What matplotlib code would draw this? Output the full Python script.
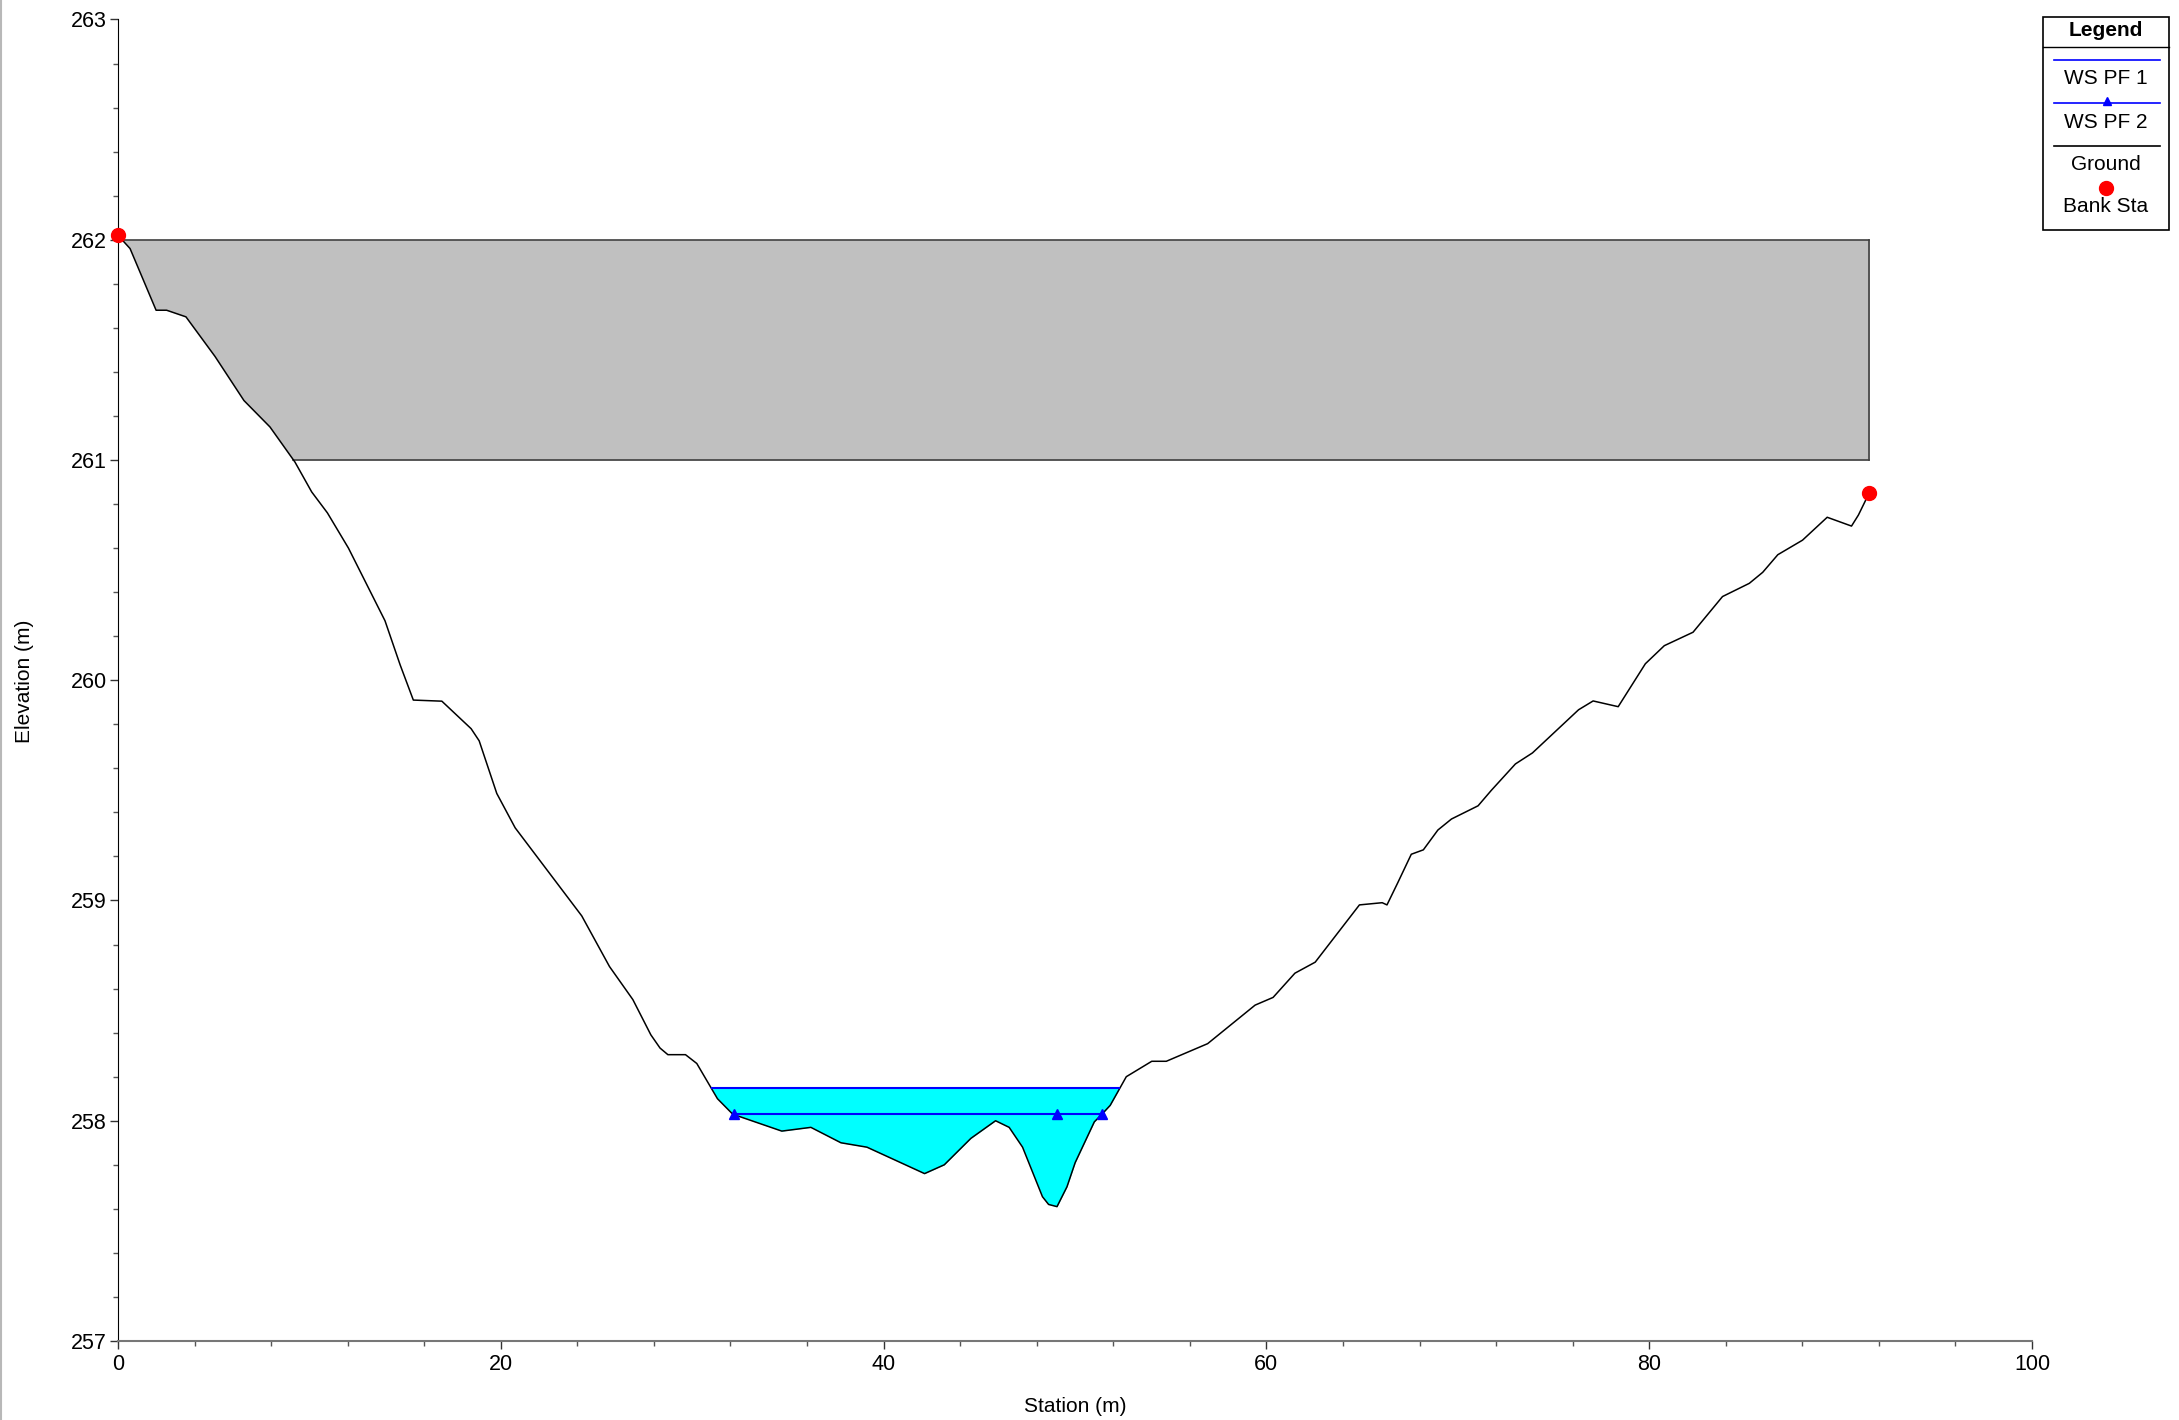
# HEC-RAS style cross section: ground, water surfaces, bank stations.

import numpy as np
import matplotlib.pyplot as plt
from matplotlib.patches import Rectangle
from matplotlib.ticker import MultipleLocator

plt.rcParams['font.family'] = ['Liberation Sans', 'DejaVu Sans']

# Ground profile (station m, elevation m)
ground_sta = [0.0, 0.63, 1.99, 2.54, 3.55, 5.07, 6.58, 7.94, 9.25, 10.12,
              10.94, 12.04, 13.95, 14.74, 15.43, 16.92, 18.45, 18.87, 19.79, 20.75,
              24.23, 25.68, 26.9, 27.84, 28.32, 28.73, 29.65, 30.24, 31.32, 32.16,
              32.51, 34.68, 36.2, 37.77, 39.13, 42.14, 43.17, 44.56, 45.85, 46.56,
              47.26, 48.30, 48.62, 49.06, 49.58, 50.01, 51.01, 51.41, 51.84, 52.68,
              54.01, 54.77, 56.93, 59.41, 60.35, 61.49, 62.55, 64.86, 66.05, 66.3,
              66.86, 67.57, 68.2, 68.96, 69.67, 71.06, 71.75, 73.01, 73.9, 76.31,
              77.07, 78.38, 79.8, 80.79, 82.29, 83.83, 85.23, 85.93, 86.72, 88.01,
              89.3, 90.57, 90.93, 91.38, 91.5]
ground_elev = [262.02, 261.96, 261.68, 261.68, 261.65, 261.47, 261.27, 261.15, 260.99, 260.855,
               260.76, 260.60, 260.27, 260.07, 259.91, 259.905, 259.78, 259.725, 259.486, 259.33,
               258.93, 258.70, 258.55, 258.39, 258.33, 258.30, 258.30, 258.26, 258.10, 258.026,
               258.018, 257.953, 257.97, 257.90, 257.88, 257.76, 257.80, 257.92, 258.00, 257.97,
               257.88, 257.655, 257.62, 257.61, 257.70, 257.81, 257.995, 258.03, 258.07, 258.20,
               258.27, 258.27, 258.35, 258.525, 258.56, 258.67, 258.72, 258.98, 258.99, 258.98,
               259.08, 259.21, 259.23, 259.32, 259.37, 259.43, 259.50, 259.62, 259.67, 259.866,
               259.906, 259.88, 260.075, 260.157, 260.218, 260.38, 260.44, 260.49, 260.57, 260.636,
               260.74, 260.70, 260.75, 260.83, 260.85]

# Bank stations
bank_sta = [0.0, 91.5]
bank_elev = [262.02, 260.85]

# Water surfaces
ws1_elev = 258.15
ws1_sta = [31.03, 52.28]
ws2_elev = 258.03
ws2_sta = [32.16, 51.41]
ws2_marker_sta = [32.16, 49.06, 51.41]

# Gray block (lid / obstruction)
block_sta = [0.0, 91.5]
block_elev = [261.0, 262.0]

W, H = 2179, 1420
fig = plt.figure(figsize=(W / 100, H / 100), dpi=100)
ax = fig.add_axes([118 / W, 79 / H, 1914 / W, 1321.5 / H])

gs = np.array(ground_sta)
ge = np.array(ground_elev)

# gray block, bounded on the left by the ground
xb = np.linspace(block_sta[0], block_sta[1], 2000)
lower = np.clip(np.interp(xb, gs, ge), block_elev[0], block_elev[1])
ax.fill_between(xb, lower, block_elev[1], color='#c0c0c0', lw=0, zorder=1)
ax.plot(block_sta, [block_elev[1]] * 2, color='#404040', lw=1.2, zorder=2)
left_bot = np.interp(block_elev[0], ge[:20][::-1], gs[:20][::-1])
ax.plot([left_bot, block_sta[1]], [block_elev[0]] * 2, color='#404040', lw=1.2, zorder=2)
ax.plot([block_sta[1]] * 2, block_elev, color='#404040', lw=1.2, zorder=2)

# water
xw = np.linspace(ws1_sta[0], ws1_sta[1], 2000)
gw = np.interp(xw, gs, ge)
ax.fill_between(xw, gw, ws1_elev, where=gw < ws1_elev, interpolate=True,
                color='#00ffff', lw=0, zorder=3)

ax.plot(gs, ge, color='black', lw=1.1, zorder=4)
ax.plot(ws1_sta, [ws1_elev] * 2, color='#0000ff', lw=1.5, zorder=5)
ax.plot(ws2_sta, [ws2_elev] * 2, color='#0000ff', lw=1.5, zorder=5)
ax.plot(ws2_marker_sta, [ws2_elev] * 3, ls='none', marker='^', ms=7,
        color='#0000ff', zorder=6)
ax.plot(bank_sta, bank_elev, ls='none', marker='o', ms=10, color='red',
        zorder=7, clip_on=False)

ax.set_xlim(0, 100)
ax.set_ylim(257, 263)
ax.xaxis.set_major_locator(MultipleLocator(20))
ax.xaxis.set_minor_locator(MultipleLocator(4))
ax.yaxis.set_major_locator(MultipleLocator(1))
ax.yaxis.set_minor_locator(MultipleLocator(0.2))
ax.tick_params(which='major', length=6, width=1, labelsize=15.5, pad=2, color='#333333')
ax.tick_params(which='minor', length=3.5, width=1, color='#555555')
ax.tick_params(axis='x', which='major', pad=3)
for s in ['top', 'right']:
    ax.spines[s].set_visible(False)
ax.spines['left'].set_color('black')
ax.spines['bottom'].set_color('#777777')
ax.spines['bottom'].set_linewidth(1.5)

fig.text(24 / W, 1 - 681 / H, 'Elevation (m)', rotation=90, ha='center', va='center', fontsize=15)
fig.text(1075 / W, 1 - 1406 / H, 'Station (m)', ha='center', va='center', fontsize=15)

# overlay in pixel coords for the legend box
ov = fig.add_axes([0, 0, 1, 1])
ov.set_xlim(0, W)
ov.set_ylim(H, 0)
ov.axis('off')
ov.patch.set_alpha(0)

ov.plot([1, 1], [0, H], color='#b8b8b8', lw=1.5)
ov.add_patch(Rectangle((2043, 17), 126, 213, facecolor='white', edgecolor='black', lw=1.2))
ov.plot([2043, 2169], [46.7, 46.7], color='black', lw=1)
ov.text(2106, 31, 'Legend', ha='center', va='center', fontsize=15, fontweight='bold')
ov.plot([2054, 2160], [60, 60], color='#0000ff', lw=1.2)
ov.text(2106, 79, 'WS PF 1', ha='center', va='center', fontsize=15)
ov.plot([2054, 2160], [103, 103], color='#0000ff', lw=1.2)
ov.plot([2107], [101], marker='^', ms=6, color='#0000ff')
ov.text(2106, 122, 'WS PF 2', ha='center', va='center', fontsize=15)
ov.plot([2054, 2160], [146, 146], color='black', lw=1.2)
ov.text(2106, 164, 'Ground', ha='center', va='center', fontsize=15)
ov.plot([2106], [188], marker='o', ms=10, color='red')
ov.text(2106, 207, 'Bank Sta', ha='center', va='center', fontsize=15)

fig.savefig('out.png', dpi=100)
